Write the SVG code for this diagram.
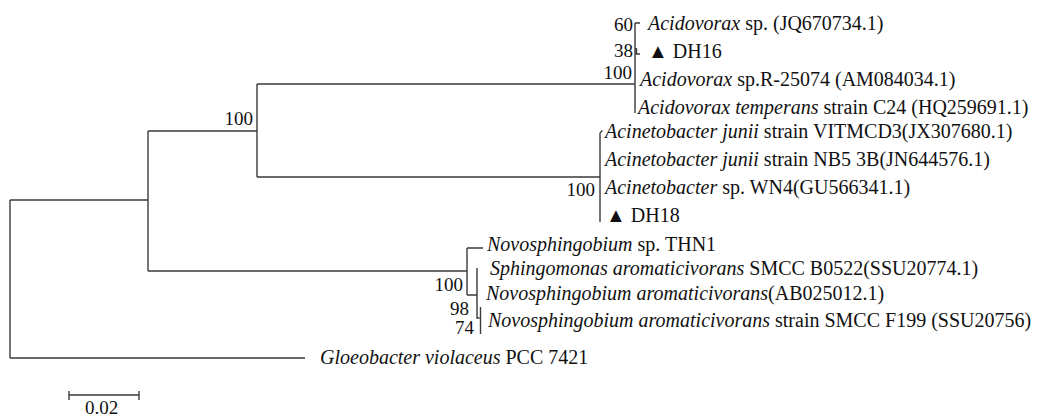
<svg xmlns="http://www.w3.org/2000/svg" width="1043" height="418" viewBox="0 0 1043 418">
<style>
.t{font-family:"Liberation Serif","Times New Roman",serif;font-size:20px;fill:#111}
.i{font-style:italic}
.b{font-family:"Liberation Serif","Times New Roman",serif;font-size:19px;fill:#111;text-anchor:end}
.s{font-family:"Liberation Serif","Times New Roman",serif;font-size:19px;fill:#111}
.e{fill:none;stroke:#3a3a3a;stroke-width:1.4}
</style>
<rect width="1043" height="418" fill="#fff"/>
<g id="connectors">
<path class="e" d="M10 200V358M10 200H148M10 358H305"/>
<path class="e" d="M148 131V271M148 131H257M148 271H467"/>
<path class="e" d="M257 84V177M257 84H635M257 177H600"/>
<path class="e" d="M635 23V113M635 23H640M636.5 48V54H640"/>
<path class="e" d="M600 133V222M600 133L602.5 130.5"/>
<path class="e" d="M467 248V295M467 248H483M467 295H477"/>
<path class="e" d="M477 268V318H479.5M480.5 307V334"/>
</g>
<g id="scalebar">
<path class="e" d="M69 395H139M69 391V400M139 391V400"/>
<text class="s" x="85" y="414">0.02</text>
</g>
<g id="labels">
<text class="b" x="253" y="125">100</text>
<text class="b" x="632" y="79">100</text>
<text class="b" x="633" y="31">60</text>
<text class="b" x="633" y="57">38</text>
<text class="b" x="595" y="196">100</text>
<text class="b" x="463" y="291">100</text>
<text class="b" x="469" y="315">98</text>
<text class="b" x="474" y="334">74</text>
</g>
<g id="n1"><text class="t" x="648" y="30"><tspan class="i">Acidovorax</tspan> sp. (JQ670734.1)</text></g>
<g id="n2"><text class="t" x="648" y="58">▲ DH16</text></g>
<g id="n3"><text class="t" x="640" y="86"><tspan class="i">Acidovorax</tspan> sp.R-25074 (AM084034.1)</text></g>
<g id="n4"><text class="t" x="638" y="114"><tspan class="i">Acidovorax temperans</tspan> strain C24 (HQ259691.1)</text></g>
<g id="n5"><text class="t" x="605" y="138"><tspan class="i">Acinetobacter junii</tspan> strain VITMCD3(JX307680.1)</text></g>
<g id="n6"><text class="t" x="605" y="166"><tspan class="i">Acinetobacter junii</tspan> strain NB5 3B(JN644576.1)</text></g>
<g id="n7"><text class="t" x="605" y="194"><tspan class="i">Acinetobacter</tspan> sp. WN4(GU566341.1)</text></g>
<g id="n8"><text class="t" x="606" y="222">▲ DH18</text></g>
<g id="n9"><text class="t" x="487" y="251"><tspan class="i">Novosphingobium</tspan> sp. THN1</text></g>
<g id="n10"><text class="t" x="490" y="275"><tspan class="i">Sphingomonas aromaticivorans</tspan> SMCC B0522(SSU20774.1)</text></g>
<g id="n11"><text class="t" x="486" y="300"><tspan class="i">Novosphingobium aromaticivorans</tspan>(AB025012.1)</text></g>
<g id="n12"><text class="t" x="488" y="327"><tspan class="i">Novosphingobium aromaticivorans</tspan> strain SMCC F199 (SSU20756)</text></g>
<g id="n13"><text class="t" x="320" y="364"><tspan class="i">Gloeobacter violaceus</tspan> PCC 7421</text></g>
</svg>
